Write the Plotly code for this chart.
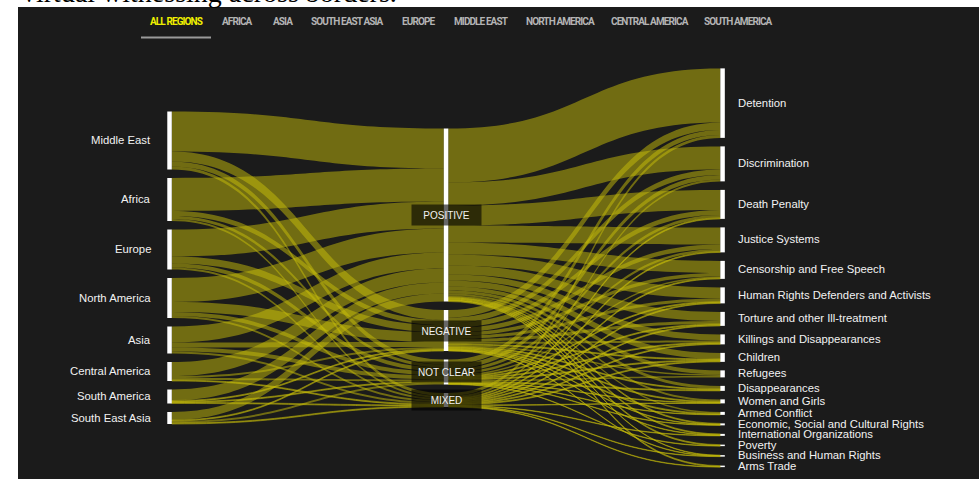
import plotly.graph_objects as go

# ---------------- data ----------------
regions = ["Middle East", "Africa", "Europe", "North America", "Asia",
           "Central America", "South America", "South East Asia"]
outcomes = ["POSITIVE", "NEGATIVE", "NOT CLEAR", "MIXED"]
topics = ["Detention", "Discrimination", "Death Penalty", "Justice Systems",
          "Censorship and Free Speech", "Human Rights Defenders and Activists",
          "Torture and other Ill-treatment", "Killings and Disappearances",
          "Children", "Refugees", "Disappearances", "Women and Girls",
          "Armed Conflict", "Economic, Social and Cultural Rights",
          "International Organizations", "Poverty",
          "Business and Human Rights", "Arms Trade"]

# region -> outcome
positive_by_region = [40, 33, 27, 24, 16, 14, 11, 8]
negative_by_region = [10, 5, 7, 10, 5, 2, 1, 1]
notclear_by_region = [5, 3, 4, 4, 4, 2, 1, 2]
mixed_by_region = [3, 2, 2, 2, 2, 1, 1, 1]

# outcome -> topic
positive_by_topic = [54, 23, 20, 17, 12, 11, 9, 6, 6, 4, 3, 2, 1.5, 1, 1, 1, 0.5, 1]
negative_by_topic = [7.5, 5.5, 5, 4.5, 3.5, 3, 3, 2, 1, 1.5, 1, 1, 1, 0.5, 0.5, 0, 0.5, 0]
notclear_by_topic = [5, 4.5, 3, 2.5, 1.5, 1, 1, 1, 1, 1.5, 1, 0.5, 0.5, 0.5, 0, 0.5, 0, 0]
mixed_by_topic = [3, 2, 1, 1, 1, 1, 1, 1, 1, 0, 0, 0.5, 0, 0, 0.5, 0, 0.5, 0.5]

nav_items = ["ALL REGIONS", "AFRICA", "ASIA", "SOUTH EAST ASIA", "EUROPE",
             "MIDDLE EAST", "NORTH AMERICA", "CENTRAL AMERICA", "SOUTH AMERICA"]
header_text = "virtual witnessing across borders."

# ---------------- layout constants ----------------
FIG_W, FIG_H = 979, 479
BG = "#1b1b1b"
LINK_COLOR = "rgba(200,190,10,0.5)"
PAD = 8.5
CENTER_Y = 267.75
NODE_T = 4.5
SK_X0, SK_W = 167.3, 557.5
COL_X = [0.004, 0.5, 0.996]
MIN_LABEL_GAP = 10.5   # keeps right-hand labels from colliding

by_region = [positive_by_region, negative_by_region, notclear_by_region, mixed_by_region]
by_topic = [positive_by_topic, negative_by_topic, notclear_by_topic, mixed_by_topic]

region_tot = [sum(col[i] for col in by_region) for i in range(len(regions))]
outcome_tot = [sum(col) for col in by_region]
topic_tot = [sum(col[i] for col in by_topic) for i in range(len(topics))]


def stack(values, min_gap=0.0):
    # stack nodes top to bottom with padding, then centre the column
    centers, bottom, prev_c = [], None, None
    for v in values:
        c = v / 2 if bottom is None else bottom + PAD + v / 2
        if prev_c is not None and c - prev_c < min_gap:
            c = prev_c + min_gap
        centers.append(c)
        bottom = c + v / 2
        prev_c = c
    shift = CENTER_Y - bottom / 2
    return [c + shift for c in centers], bottom


region_c, _ = stack(region_tot)
outcome_c, _ = stack(outcome_tot)
topic_c, right_span = stack(topic_tot, MIN_LABEL_GAP)

# ky = 1 px per unit: domain height set from the tallest column
dom_h = sum(topic_tot) + (len(topics) - 1) * PAD
dom_top = CENTER_Y - dom_h / 2

labels = regions + outcomes + topics
node_x = [COL_X[0]] * len(regions) + [COL_X[1]] * len(outcomes) + [COL_X[2]] * len(topics)
node_y = [(c - dom_top) / dom_h for c in region_c + outcome_c + topic_c]

src, tgt, val = [], [], []
nR, nO = len(regions), len(outcomes)
for o, col in enumerate(by_region):
    for r, v in enumerate(col):
        if v > 0:
            src.append(r); tgt.append(nR + o); val.append(v)
for o, col in enumerate(by_topic):
    for t, v in enumerate(col):
        if v > 0:
            src.append(nR + o); tgt.append(nR + nO + t); val.append(v)

fig = go.Figure(go.Sankey(
    arrangement="fixed",
    domain=dict(x=[SK_X0 / FIG_W, (SK_X0 + SK_W) / FIG_W],
                y=[1 - (dom_top + dom_h) / FIG_H, 1 - dom_top / FIG_H]),
    node=dict(label=labels, x=node_x, y=node_y, pad=PAD, thickness=NODE_T,
              color="white", line=dict(width=0)),
    link=dict(source=src, target=tgt, value=val, color=LINK_COLOR),
    textfont=dict(color="rgba(0,0,0,0)", size=1),
))


def py(p):
    return 1 - p / FIG_H


ann = []
LABEL_FONT = "Liberation Sans, Arial, Helvetica, sans-serif"
for name, c in zip(regions, region_c):
    ann.append(dict(x=153 / FIG_W, y=py(c - 0.5), xref="paper", yref="paper", text=name,
                    showarrow=False, xanchor="right", yanchor="middle",
                    font=dict(family=LABEL_FONT, size=11.3, color="#f2f2f2")))
for name, c in zip(topics, topic_c):
    ann.append(dict(x=736 / FIG_W, y=py(c - 0.5), xref="paper", yref="paper", text=name,
                    showarrow=False, xanchor="left", yanchor="middle",
                    font=dict(family=LABEL_FONT, size=11.3, color="#f2f2f2")))
mid_x = (SK_X0 + COL_X[1] * SK_W) / FIG_W
for name, c in zip(outcomes, outcome_c):
    ann.append(dict(x=mid_x, y=py(c), xref="paper", yref="paper", text=name,
                    showarrow=False, xanchor="center", yanchor="middle",
                    width=65, height=16, bgcolor="rgba(0,0,0,0.6)", borderpad=2,
                    font=dict(family=LABEL_FONT, size=10, color="#f2f2f2")))

# navigation bar
nav_centers = [176, 237, 283, 347, 418, 481, 560, 650, 738]
for i, (name, cx) in enumerate(zip(nav_items, nav_centers)):
    ann.append(dict(x=cx / FIG_W, y=py(22), xref="paper", yref="paper",
                    text='<span style="letter-spacing:-0.9px"><b>' + name + "</b></span>",
                    showarrow=False, xanchor="center", yanchor="middle",
                    font=dict(family="Roboto, Liberation Sans, sans-serif", weight=700,
                              size=10, color="#f0f000" if i == 0 else "#b4b4b4")))

# header text (cut off at the top of the page)
ann.append(dict(x=20 / FIG_W, y=py(10), xref="paper", yref="paper", text=header_text,
                showarrow=False, xanchor="left", yanchor="bottom",
                font=dict(family="Liberation Serif, Times New Roman, serif", size=28, color="black")))

shapes = [
    dict(type="rect", xref="paper", yref="paper", x0=0, x1=18 / FIG_W, y0=0, y1=1,
         fillcolor="white", line=dict(width=0), layer="below"),
    dict(type="rect", xref="paper", yref="paper", x0=0, x1=1, y0=py(7), y1=1,
         fillcolor="white", line=dict(width=0), layer="below"),
    dict(type="line", xref="paper", yref="paper", x0=141 / FIG_W, x1=211 / FIG_W,
         y0=py(37.5), y1=py(37.5), line=dict(color="#9a9a9a", width=2)),
]

fig.update_layout(
    width=FIG_W, height=FIG_H,
    margin=dict(l=0, r=0, t=0, b=0),
    paper_bgcolor=BG, plot_bgcolor=BG,
    annotations=ann, shapes=shapes,
    showlegend=False,
)

fig.write_html("out.html",
               config={"displayModeBar": False},
               post_script="document.body.style.margin='0';"
                           "document.documentElement.style.overflow='hidden';")
